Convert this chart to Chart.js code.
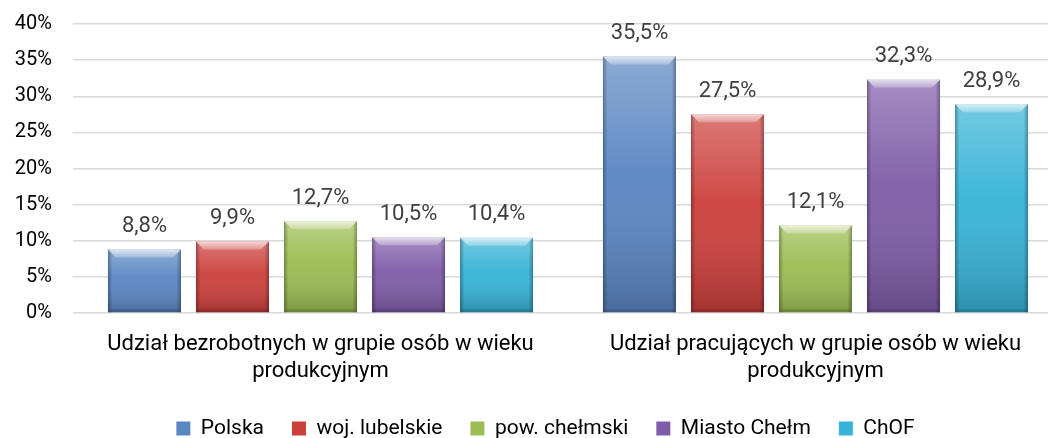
<!DOCTYPE html>
<html>
<head>
<meta charset="utf-8">
<script src="https://cdn.jsdelivr.net/npm/chart.js@4/dist/chart.umd.min.js"></script>
<style>
  html, body { margin: 0; padding: 0; background: #fff; overflow: hidden; }
  .wrap { width: 1094px; height: 438px; position: relative; }
</style>
</head>
<body>
<div class="wrap"><canvas id="chart"></canvas></div>
<script>
// categories (two groups on the x axis)
const categories = [
  ['Udział bezrobotnych w grupie osób w wieku', 'produkcyjnym'],
  ['Udział pracujących w grupie osób w wieku', 'produkcyjnym']
];

// series names
const seriesNames = ['Polska', 'woj. lubelskie', 'pow. chełmski', 'Miasto Chełm', 'ChOF'];

// values per series (percent)
const polska = [8.8, 35.5];
const lubelskie = [9.9, 27.5];
const chelmski = [12.7, 12.1];
const miastoChelm = [10.5, 32.3];
const chof = [10.4, 28.9];

const seriesColors = ['#5a86c2', '#cc3f3b', '#9bbd52', '#7f5ba8', '#36b3d6'];

const yTicks = [0, 5, 10, 15, 20, 25, 30, 35, 40];

const FONT = 'Roboto, "Open Sans", sans-serif';

function fmt(v) {
    return v.toFixed(1).replace('.', ',') + '%';
}

// bevel look for the bars, drawn over the flat fill
const bevelPlugin = {
    id: 'bevel',
    afterDatasetsDraw(chart) {
        const ctx = chart.ctx;
        chart.data.datasets.forEach((ds, i) => {
            const meta = chart.getDatasetMeta(i);
            meta.data.forEach((bar) => {
                const w = bar.width;
                const x0 = bar.x - w / 2, x1 = bar.x + w / 2;
                const top = bar.y, bot = bar.base;
                const b = Math.min(8, (bot - top) / 3);
                ctx.save();
                // vertical shading
                let g = ctx.createLinearGradient(0, top, 0, bot);
                g.addColorStop(0, 'rgba(255,255,255,0.3)');
                g.addColorStop(0.45, 'rgba(255,255,255,0.05)');
                g.addColorStop(1, 'rgba(0,0,0,0.2)');
                ctx.fillStyle = g;
                ctx.fillRect(x0, top, w, bot - top);
                // side shading
                g = ctx.createLinearGradient(x0, 0, x1, 0);
                g.addColorStop(0, 'rgba(0,0,0,0.3)');
                g.addColorStop(0.06, 'rgba(0,0,0,0.0)');
                g.addColorStop(0.94, 'rgba(0,0,0,0.0)');
                g.addColorStop(1, 'rgba(0,0,0,0.3)');
                ctx.fillStyle = g;
                ctx.fillRect(x0, top, w, bot - top);
                // top bevel
                ctx.beginPath();
                ctx.moveTo(x0, top);
                ctx.lineTo(x1, top);
                ctx.lineTo(x1 - b, top + b);
                ctx.lineTo(x0 + b, top + b);
                ctx.closePath();
                g = ctx.createLinearGradient(0, top, 0, top + b);
                g.addColorStop(0, 'rgba(255,255,255,0.7)');
                g.addColorStop(1, 'rgba(255,255,255,0.25)');
                ctx.fillStyle = g;
                ctx.fill();
                // bottom bevel
                ctx.beginPath();
                ctx.moveTo(x0, bot);
                ctx.lineTo(x1, bot);
                ctx.lineTo(x1 - 3, bot - 3);
                ctx.lineTo(x0 + 3, bot - 3);
                ctx.closePath();
                ctx.fillStyle = 'rgba(0,0,0,0.12)';
                ctx.fill();
                ctx.restore();
            });
        });
    }
};

// value labels above the bars
const valueLabels = {
    id: 'valueLabels',
    afterDatasetsDraw(chart) {
        const ctx = chart.ctx;
        ctx.save();
        ctx.font = '22px ' + FONT;
        ctx.fillStyle = '#404040';
        ctx.textAlign = 'center';
        ctx.textBaseline = 'middle';
        chart.data.datasets.forEach((ds, i) => {
            chart.getDatasetMeta(i).data.forEach((bar, j) => {
                ctx.fillText(fmt(ds.data[j]), bar.x, bar.y - 23);
            });
        });
        ctx.restore();
    }
};

// nudge the legend to where it sits in the original
const legendShift = {
    id: 'legendShift',
    beforeDraw(chart) {
        const lg = chart.legend;
        if (!lg || lg._shifted) return;
        lg.left += 8; lg.right += 8;
        lg.top += 5; lg.bottom += 5;
        lg._shifted = true;
    }
};

const allSeries = [polska, lubelskie, chelmski, miastoChelm, chof];

new Chart(document.getElementById('chart'), {
    type: 'bar',
    data: {
        labels: categories,
        datasets: allSeries.map((vals, i) => ({
            label: seriesNames[i],
            data: vals,
            backgroundColor: seriesColors[i],
            borderWidth: 0,
            categoryPercentage: 0.889,
            barPercentage: 0.83
        }))
    },
    options: {
        responsive: true,
        maintainAspectRatio: false,
        animation: false,
        layout: { padding: { left: 12, right: 31, top: 24, bottom: -6 } },
        plugins: {
            tooltip: { enabled: false },
            legend: {
                position: 'bottom',
                labels: {
                    font: { family: FONT, size: 21 },
                    color: '#000',
                    boxWidth: 14,
                    boxHeight: 14,
                    padding: 28
                }
            }
        },
        scales: {
            x: {
                afterFit(scale) { scale.height = 72; },
                grid: { display: false, drawTicks: false },
                border: { display: false },
                ticks: {
                    font: { family: FONT, size: 22, lineHeight: 1.23 },
                    color: '#000',
                    maxRotation: 0,
                    autoSkip: false,
                    padding: 18
                }
            },
            y: {
                min: 0,
                max: 40,
                afterFit(scale) { scale.width = 61; },
                afterBuildTicks(scale) { scale.ticks = yTicks.map(v => ({ value: v })); },
                grid: { color: '#d9d9d9', lineWidth: 1.5, drawTicks: true, tickLength: 21, tickColor: 'rgba(0,0,0,0)' },
                border: { display: false },
                ticks: {
                    font: { family: FONT, size: 20 },
                    color: '#000',
                    padding: 0,
                    callback: v => v + '%'
                }
            }
        }
    },
    plugins: [bevelPlugin, valueLabels, legendShift]
});
</script>
</body>
</html>
